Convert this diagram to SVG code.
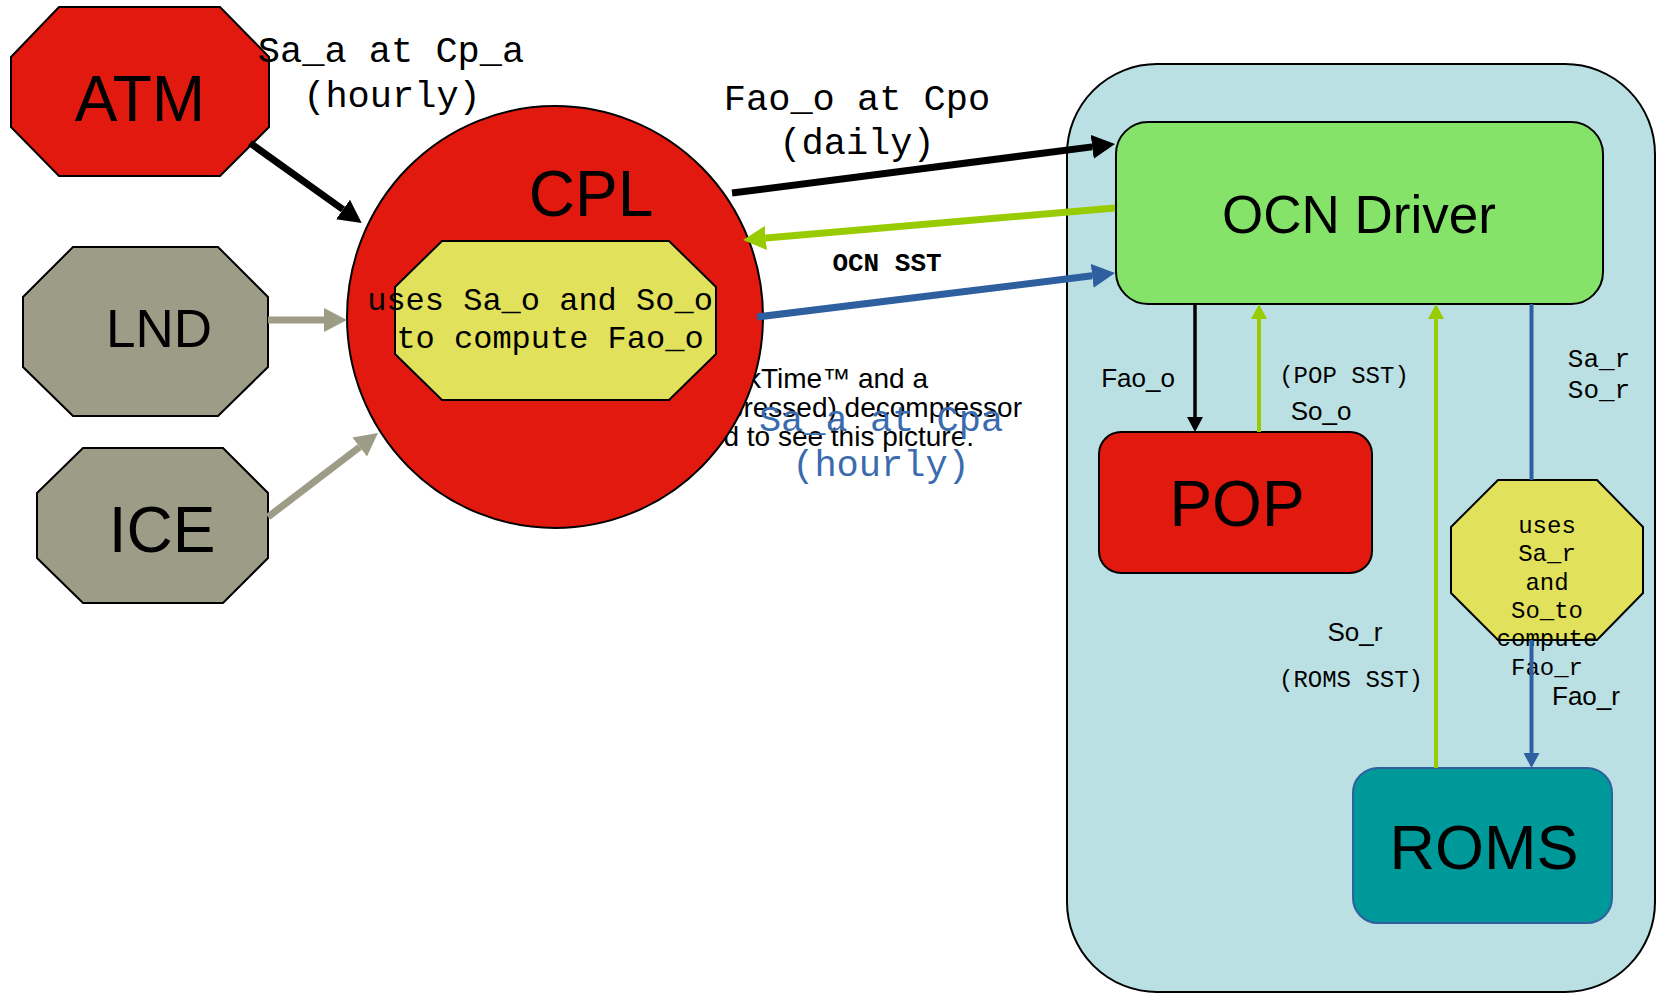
<svg xmlns="http://www.w3.org/2000/svg" width="1657" height="993" viewBox="0 0 1657 993">
<style>
.node{stroke:#000;stroke-width:2}
.red{fill:#E2190F}
.gray{fill:#9C9C87}
.yel{fill:#E1E15B}
.sans{font-family:"Liberation Sans",Arial,sans-serif;fill:#000}
.mono{font-family:"Courier New","Liberation Mono",monospace;fill:#000}
.big{font-size:64px}
.e{fill:none}
</style>
<defs>
<marker id="hBlack" markerUnits="userSpaceOnUse" markerWidth="26" markerHeight="26" refX="0" refY="13" orient="auto"><path d="M0,1 L23,13 L0,25 z" fill="#000"/></marker>
<marker id="hGreen" markerUnits="userSpaceOnUse" markerWidth="26" markerHeight="26" refX="0" refY="13" orient="auto"><path d="M0,1 L23,13 L0,25 z" fill="#99CC00"/></marker>
<marker id="hBlue" markerUnits="userSpaceOnUse" markerWidth="26" markerHeight="26" refX="0" refY="13" orient="auto"><path d="M0,1 L23,13 L0,25 z" fill="#2E5F9E"/></marker>
<marker id="hGray" markerUnits="userSpaceOnUse" markerWidth="26" markerHeight="26" refX="0" refY="13" orient="auto"><path d="M0,1 L23,13 L0,25 z" fill="#9C9C87"/></marker>
<marker id="sBlack" markerUnits="userSpaceOnUse" markerWidth="16" markerHeight="16" refX="0" refY="8" orient="auto"><path d="M0,0 L15,8 L0,16 z" fill="#000"/></marker>
<marker id="sGreen" markerUnits="userSpaceOnUse" markerWidth="16" markerHeight="16" refX="0" refY="8" orient="auto"><path d="M0,0 L15,8 L0,16 z" fill="#99CC00"/></marker>
<marker id="sBlue" markerUnits="userSpaceOnUse" markerWidth="16" markerHeight="16" refX="0" refY="8" orient="auto"><path d="M0,0 L15,8 L0,16 z" fill="#2E5F9E"/></marker>
</defs>
<rect width="1657" height="993" fill="#fff"/>

<g id="cluster-ocean">
<rect x="1067" y="64" width="588" height="928" rx="90" ry="90" fill="#BBE0E3" stroke="#000" stroke-width="2"/>
</g>

<g id="quicktime-placeholder">
<text class="sans" font-size="28" text-anchor="end" x="928" y="388">QuickTime™ and a</text>
<text class="sans" font-size="28" text-anchor="end" x="1022" y="417">TIFF (Uncompressed) decompressor</text>
<text class="sans" font-size="28" text-anchor="end" x="974" y="446">are needed to see this picture.</text>
</g>

<g id="ATM">
<polygon class="node red" points="11,57 59,7 220,7 269,57 269,127 220,176 59,176 11,127"/>
<text class="sans big" text-anchor="middle" x="140" y="121">ATM</text>
</g>
<g id="LND">
<polygon class="node gray" points="23,297 73,247 218,247 268,297 268,367 218,416 73,416 23,367"/>
<text class="sans" font-size="53" text-anchor="middle" x="159" y="347">LND</text>
</g>
<g id="ICE">
<polygon class="node gray" points="37,493 83,448 223,448 268,493 268,558 223,603 83,603 37,558"/>
<text class="sans big" text-anchor="middle" x="162" y="552">ICE</text>
</g>
<g id="CPL">
<ellipse class="node red" cx="555" cy="317" rx="208" ry="211"/>
<text class="sans big" text-anchor="middle" x="591" y="216">CPL</text>
</g>
<g id="CPL-compute">
<polygon class="node yel" points="395,287 442,241 669,241 716,287 716,354 669,400 442,400 395,354"/>
<text class="mono" font-size="32" text-anchor="middle" x="540" y="310">uses Sa_o and So_o</text>
<text class="mono" font-size="32" text-anchor="middle" x="550" y="348">to compute Fao_o</text>
</g>
<g id="OCN-Driver">
<rect class="node" x="1116" y="122" width="487" height="182" rx="32" ry="32" fill="#85E36A"/>
<text class="sans" font-size="53" text-anchor="middle" x="1359" y="233">OCN Driver</text>
</g>
<g id="POP">
<rect class="node red" x="1099" y="432" width="273" height="141" rx="22" ry="22"/>
<text class="sans big" text-anchor="middle" x="1237" y="526">POP</text>
</g>
<g id="ROMS">
<rect x="1353" y="768" width="259" height="155" rx="25" ry="25" fill="#009999" stroke="#2E5F9E" stroke-width="2"/>
<text class="sans" font-size="63" text-anchor="middle" x="1484" y="869">ROMS</text>
</g>
<g id="ROMS-compute">
<polygon class="node yel" points="1451,527 1498,480 1597,480 1643,527 1643,593 1597,640 1498,640 1451,593"/>
<g class="mono" font-size="24" text-anchor="middle">
<text x="1547" y="533">uses</text>
<text x="1547" y="561">Sa_r</text>
<text x="1547" y="590">and</text>
<text x="1547" y="618">So_to</text>
<text x="1547" y="646">compute</text>
<text x="1547" y="675">Fao_r</text>
</g>
</g>

<g id="connectors">
<line class="e" x1="250" y1="143" x2="343" y2="209.5" stroke="#000" stroke-width="7" marker-end="url(#hBlack)"/>
<line class="e" x1="268" y1="320" x2="324" y2="320" stroke="#9C9C87" stroke-width="7" marker-end="url(#hGray)"/>
<line class="e" x1="268" y1="517" x2="359.7" y2="447" stroke="#9C9C87" stroke-width="7" marker-end="url(#hGray)"/>
<line class="e" x1="732" y1="193" x2="1092.2" y2="146.9" stroke="#000" stroke-width="7" marker-end="url(#hBlack)"/>
<line class="e" x1="1115" y1="208" x2="765.9" y2="238" stroke="#99CC00" stroke-width="7" marker-end="url(#hGreen)"/>
<line class="e" x1="757" y1="317" x2="1092.2" y2="275.8" stroke="#2E5F9E" stroke-width="7" marker-end="url(#hBlue)"/>
<line class="e" x1="1195" y1="304" x2="1195" y2="417" stroke="#000" stroke-width="3.5" marker-end="url(#sBlack)"/>
<line class="e" x1="1259" y1="432" x2="1259" y2="319" stroke="#99CC00" stroke-width="4" marker-end="url(#sGreen)"/>
<line class="e" x1="1436" y1="768" x2="1436" y2="319" stroke="#99CC00" stroke-width="4" marker-end="url(#sGreen)"/>
<line class="e" x1="1531.5" y1="304" x2="1531.5" y2="480" stroke="#2E5F9E" stroke-width="4"/>
<line class="e" x1="1531.5" y1="640" x2="1531.5" y2="753" stroke="#2E5F9E" stroke-width="4" marker-end="url(#sBlue)"/>
</g>

<g id="edge-labels">
<text class="mono" font-size="37" text-anchor="middle" x="391" y="62">Sa_a at Cp_a</text>
<text class="mono" font-size="37" text-anchor="middle" x="392" y="107">(hourly)</text>
<text class="mono" font-size="37" text-anchor="middle" x="857" y="110">Fao_o at Cpo</text>
<text class="mono" font-size="37" text-anchor="middle" x="857" y="154">(daily)</text>
<text class="mono" font-size="26" font-weight="bold" text-anchor="middle" x="887" y="271">OCN SST</text>
<text class="mono" font-size="37" text-anchor="middle" x="881" y="431" style="fill:#3A6BAE">Sa_a at Cpa</text>
<text class="mono" font-size="37" text-anchor="middle" x="881" y="476" style="fill:#3A6BAE">(hourly)</text>
<text class="sans" font-size="26" text-anchor="middle" x="1138" y="387">Fao_o</text>
<text class="mono" font-size="24" text-anchor="middle" x="1344" y="383">(POP SST)</text>
<text class="sans" font-size="26" text-anchor="middle" x="1321" y="420">So_o</text>
<text class="mono" font-size="26" text-anchor="middle" x="1599" y="367">Sa_r</text>
<text class="mono" font-size="26" text-anchor="middle" x="1599" y="398">So_r</text>
<text class="sans" font-size="26" text-anchor="middle" x="1355" y="641">So_r</text>
<text class="mono" font-size="24" text-anchor="middle" x="1351" y="687">(ROMS SST)</text>
<text class="sans" font-size="26" text-anchor="middle" x="1586" y="705">Fao_r</text>
</g>
</svg>
